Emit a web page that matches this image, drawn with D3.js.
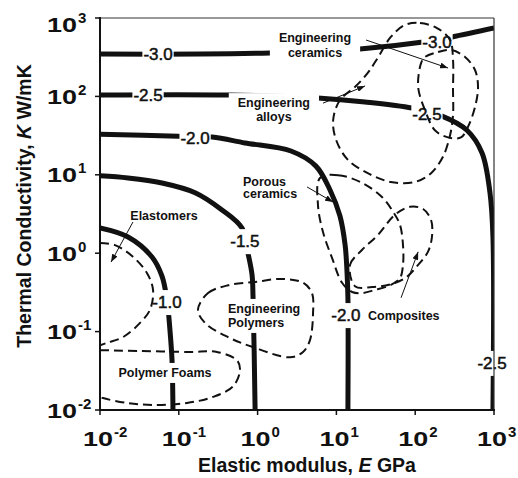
<!DOCTYPE html>
<html>
<head>
<meta charset="utf-8">
<script src="https://cdn.jsdelivr.net/npm/d3@7"></script>
<style>
  body { margin: 0; background: #fff; }
  text { font-family: "Liberation Sans", Arial, sans-serif; fill: #111; }
</style>
</head>
<body>
<div id="chart"></div>
<script>
// axis ticks
const tickValues = [1e-2, 1e-1, 1e0, 1e1, 1e2, 1e3];
const tickExponents = ["-2", "-1", "0", "1", "2", "3"];

// contour lines, [E GPa, K W/mK]
const contourM30 = [[0.01, 347], [0.186, 347], [1.44, 358], [6.2, 380], [19.9, 403], [126, 494], [293, 573], [1000, 745]];
const contourM25 = [[0.01, 104], [0.42, 104], [5.8, 95.5], [23, 85], [91, 71], [219, 56], [454, 37], [705, 19], [889, 5.9], [970, 1.6], [970, 0.01]];
const contourM20 = [[0.01, 33], [0.098, 31], [0.264, 30.3], [0.69, 25.5], [2.65, 20.1], [5.5, 12.9], [8.3, 6.4], [11.1, 2.98], [12.9, 1.27], [13.6, 0.61], [14.0, 0.27], [14.0, 0.01]];
const contourM15 = [[0.01, 9.7], [0.0227, 9.1], [0.0612, 7.85], [0.161, 5.9], [0.353, 3.56], [0.634, 2.09], [0.755, 1.0], [0.85, 0.53], [0.875, 0.276], [0.93, 0.01]];
const contourM10 = [[0.01, 2.1], [0.0227, 1.61], [0.0457, 0.895], [0.0612, 0.51], [0.0708, 0.253], [0.0772, 0.105], [0.082, 0.0435], [0.0843, 0.01]];

// contour labels: text and where it sits on the line
const contourLabelText = ["-3.0", "-3.0", "-2.5", "-2.5", "-2.5", "-2.0", "-2.0", "-1.5", "-1.0"];
const contourLabelAt = [[0.0545, 347], [189, 494], [0.0407, 104], [141, 60], [944, 0.040], [0.161, 29.4], [13.2, 0.163], [0.69, 1.43], [0.0708, 0.239]];

// material family outlines
const alloysBlob = [[74.3, 815], [115, 863], [189, 745], [277, 524], [302, 291], [302, 121], [302, 58], [277, 32], [225, 17], [159, 10.5], [99, 8.1], [49, 8.1], [25, 10.5], [14, 15.5], [9.9, 28], [9.1, 50], [11.1, 90], [17.2, 132], [25, 199], [34, 318], [49, 573]];
const ceramicsBlob = [[133, 318], [195, 368], [285, 391], [429, 318], [574, 217], [627, 132], [574, 73], [468, 41], [381, 30], [261, 30], [178, 37], [133, 67], [109, 132], [119, 267]];
const porousBlob = [[6.19, 9.1], [10.5, 9.9], [21.1, 7.9], [37.9, 5.2], [52.2, 3.4], [64.1, 2.3], [70, 1.27], [70, 0.71], [64.1, 0.48], [47.9, 0.39], [30.9, 0.34], [21.1, 0.31], [15.8, 0.32], [11.8, 0.42], [8.8, 0.87], [6.76, 1.86], [5.84, 4.1]];
const compositesBlob = [[17.2, 0.38], [14.9, 0.71], [21.1, 1.10], [33.7, 1.71], [55.4, 3.1], [86, 3.9], [126, 3.66], [159, 2.65], [163, 1.61], [145, 1.04], [109, 0.71], [74.3, 0.48], [47.9, 0.40], [28.3, 0.37]];
const polymersBlob = [[0.175, 0.19], [0.235, 0.31], [0.421, 0.39], [0.927, 0.43], [2.04, 0.47], [3.77, 0.42], [4.90, 0.31], [5.05, 0.17], [4.62, 0.078], [3.77, 0.055], [2.58, 0.047], [0.850, 0.064], [0.421, 0.085], [0.215, 0.129]];
const elastomersBlob = [[0.01, 1.35], [0.0155, 1.27], [0.0262, 0.90], [0.0394, 0.56], [0.0471, 0.34], [0.0431, 0.19], [0.0322, 0.129], [0.0196, 0.085], [0.0123, 0.072], [0.01, 0.067]];
const foamsBlob = [[0.01, 0.058], [0.0322, 0.0566], [0.139, 0.055], [0.305, 0.055], [0.548, 0.043], [0.598, 0.032], [0.488, 0.020], [0.272, 0.0147], [0.127, 0.0123], [0.0471, 0.0116], [0.0220, 0.0123], [0.0109, 0.0142], [0.01, 0.0147]];

// family names and pointer arrows [from, to]
const materialNames = [["Engineering", "ceramics"], ["Engineering", "alloys"], ["Porous", "ceramics"], ["Elastomers"], ["Engineering", "Polymers"], ["Polymer Foams"], ["Composites"]];
const materialAt = [[5.35, 494], [1.61, 73], [0.653, 7.2], [0.0649, 2.65], [0.421, 0.173], [0.0668, 0.0264], [25.2, 0.141]];
const arrows = [
  [[23.8, 524], [261, 230]],
  [[6.76, 82], [23.1, 136]],
  [[4.24, 7.0], [9.06, 4.5]],
  [[66.1, 0.27], [109, 1.04]],
  [[0.0262, 2.5], [0.0138, 0.77]]
];

const width = 518, height = 478;
const svg = d3.select("#chart").append("svg")
    .attr("width", width)
    .attr("height", height);

const x = d3.scaleLog().domain([1e-2, 1e3]).range([100, 494]);
const y = d3.scaleLog().domain([1e-2, 1e3]).range([410, 18]);

const defs = svg.append("defs");
defs.append("clipPath").attr("id", "plot")
  .append("rect")
    .attr("x", x.range()[0]).attr("y", y.range()[1])
    .attr("width", x.range()[1] - x.range()[0])
    .attr("height", y.range()[0] - y.range()[1]);
defs.append("marker")
    .attr("id", "head")
    .attr("viewBox", "0 0 8 6")
    .attr("refX", 8).attr("refY", 3)
    .attr("markerWidth", 8).attr("markerHeight", 6)
    .attr("markerUnits", "userSpaceOnUse")
    .attr("orient", "auto")
  .append("path")
    .attr("d", "M0,0L8,3L0,6z")
    .attr("fill", "#111");

const plot = svg.append("g").attr("clip-path", "url(#plot)");
const contourG = plot.append("g");
const knockG = plot.append("g");
const blobG = plot.append("g");
const textG = svg.append("g");
const arrowG = svg.append("g");
const axisG = svg.append("g");

// thick contour lines
const contourLine = d3.line()
    .x(d => x(d[0]))
    .y(d => y(d[1]))
    .curve(d3.curveCatmullRom.alpha(0.5));

[contourM30, contourM25, contourM20, contourM15, contourM10].forEach(c => {
  contourG.append("path")
      .attr("d", contourLine(c))
      .attr("fill", "none")
      .attr("stroke", "#111")
      .attr("stroke-width", 5);
});

// dashed outlines
const closedLine = d3.line().x(d => x(d[0])).y(d => y(d[1])).curve(d3.curveCatmullRomClosed.alpha(0.5));
const openLine = d3.line().x(d => x(d[0])).y(d => y(d[1])).curve(d3.curveCatmullRom.alpha(0.5));

function dashed(path) {
  path.attr("fill", "none")
      .attr("stroke", "#111")
      .attr("stroke-width", 2)
      .attr("stroke-dasharray", "9,5");
}
[alloysBlob, ceramicsBlob, porousBlob, compositesBlob, polymersBlob].forEach(b => {
  blobG.append("path").attr("d", closedLine(b)).call(dashed);
});
[elastomersBlob, foamsBlob].forEach(b => {
  blobG.append("path").attr("d", openLine(b)).call(dashed);
});

function knockout(node, padX, padY) {
  let bb = node.getBBox();
  knockG.append("rect")
      .attr("x", bb.x - padX).attr("y", bb.y - padY)
      .attr("width", bb.width + 2 * padX)
      .attr("height", bb.height + 2 * padY)
      .attr("fill", "#fff");
}

// contour values
contourLabelText.forEach((t, i) => {
  let p = contourLabelAt[i];
  let txt = textG.append("text")
      .attr("x", x(p[0]))
      .attr("y", y(p[1]))
      .attr("dy", "0.36em")
      .attr("text-anchor", "middle")
      .style("font-size", "17px")
      .style("stroke", "#111")
      .style("stroke-width", 0.5)
      .text(t);
  knockout(txt.node(), 1, 3);
});

// family names
const anchors = ["middle", "middle", "start", "middle", "start", "middle", "start"];
const leading = [15, 14, 12.5, 14, 14, 14, 14];
materialNames.forEach((lines, i) => {
  let p = materialAt[i];
  let txt = textG.append("text")
      .attr("x", x(p[0]))
      .attr("y", y(p[1]))
      .attr("text-anchor", anchors[i])
      .style("font-size", "12.5px")
      .style("font-weight", "bold");
  lines.forEach((l, j) => {
    txt.append("tspan")
        .attr("x", x(p[0]))
        .attr("dy", j === 0 ? 0 : leading[i])
        .text(l);
  });
  knockout(txt.node(), 9, 3);
});

arrows.forEach(a => {
  arrowG.append("line")
      .attr("x1", x(a[0][0])).attr("y1", y(a[0][1]))
      .attr("x2", x(a[1][0])).attr("y2", y(a[1][1]))
      .attr("stroke", "#111")
      .attr("stroke-width", 1)
      .attr("marker-end", "url(#head)");
});

// frame and axes
axisG.append("line").attr("x1", 100).attr("x2", 494).attr("y1", y.range()[1]).attr("y2", y.range()[1])
    .attr("stroke", "#333").attr("stroke-width", 1.2);
axisG.append("line").attr("x1", x.range()[1]).attr("x2", x.range()[1]).attr("y1", 18).attr("y2", 410)
    .attr("stroke", "#333").attr("stroke-width", 1.2);
axisG.append("line").attr("x1", x.range()[0]).attr("x2", x.range()[0]).attr("y1", 17).attr("y2", 411)
    .attr("stroke", "#111").attr("stroke-width", 2);
axisG.append("line").attr("x1", 99).attr("x2", 495).attr("y1", y.range()[0]).attr("y2", y.range()[0])
    .attr("stroke", "#111").attr("stroke-width", 2);

tickValues.forEach((t, i) => {
  // x ticks
  axisG.append("line")
      .attr("x1", x(t)).attr("x2", x(t))
      .attr("y1", 410).attr("y2", 415)
      .attr("stroke", "#111").attr("stroke-width", 1.5);
  axisG.append("text")
      .attr("x", x(t) - 17).attr("y", 446)
      .attr("textLength", 30).attr("lengthAdjust", "spacingAndGlyphs")
      .style("font-size", "21px").style("font-weight", "bold")
      .text("10");
  axisG.append("text")
      .attr("x", x(t) + 14).attr("y", 437)
      .style("font-size", "15px").style("font-weight", "bold")
      .text(tickExponents[i]);

  // y ticks
  let yy = y(t) + (i === tickValues.length - 1 ? 6 : 0);
  axisG.append("line")
      .attr("x1", 95).attr("x2", 100)
      .attr("y1", y(t)).attr("y2", y(t))
      .attr("stroke", "#111").attr("stroke-width", 1.5);
  axisG.append("text")
      .attr("x", 47).attr("y", yy + 7.5)
      .attr("textLength", 30).attr("lengthAdjust", "spacingAndGlyphs")
      .style("font-size", "21px").style("font-weight", "bold")
      .text("10");
  axisG.append("text")
      .attr("x", 78).attr("y", yy - 1.5)
      .style("font-size", "15px").style("font-weight", "bold")
      .text(tickExponents[i]);
});

// axis titles
let xt = axisG.append("text")
    .attr("x", 307).attr("y", 472)
    .attr("text-anchor", "middle")
    .style("font-size", "19.5px").style("font-weight", "bold");
xt.append("tspan").text("Elastic modulus, ");
xt.append("tspan").style("font-style", "italic").text("E");
xt.append("tspan").text(" GPa");

let yt = axisG.append("text")
    .attr("transform", "translate(31,206) rotate(-90)")
    .attr("text-anchor", "middle")
    .style("font-size", "19.5px").style("font-weight", "bold");
yt.append("tspan").text("Thermal Conductivity, ");
yt.append("tspan").style("font-style", "italic").text("K");
yt.append("tspan").text(" W/mK");
</script>
</body>
</html>
